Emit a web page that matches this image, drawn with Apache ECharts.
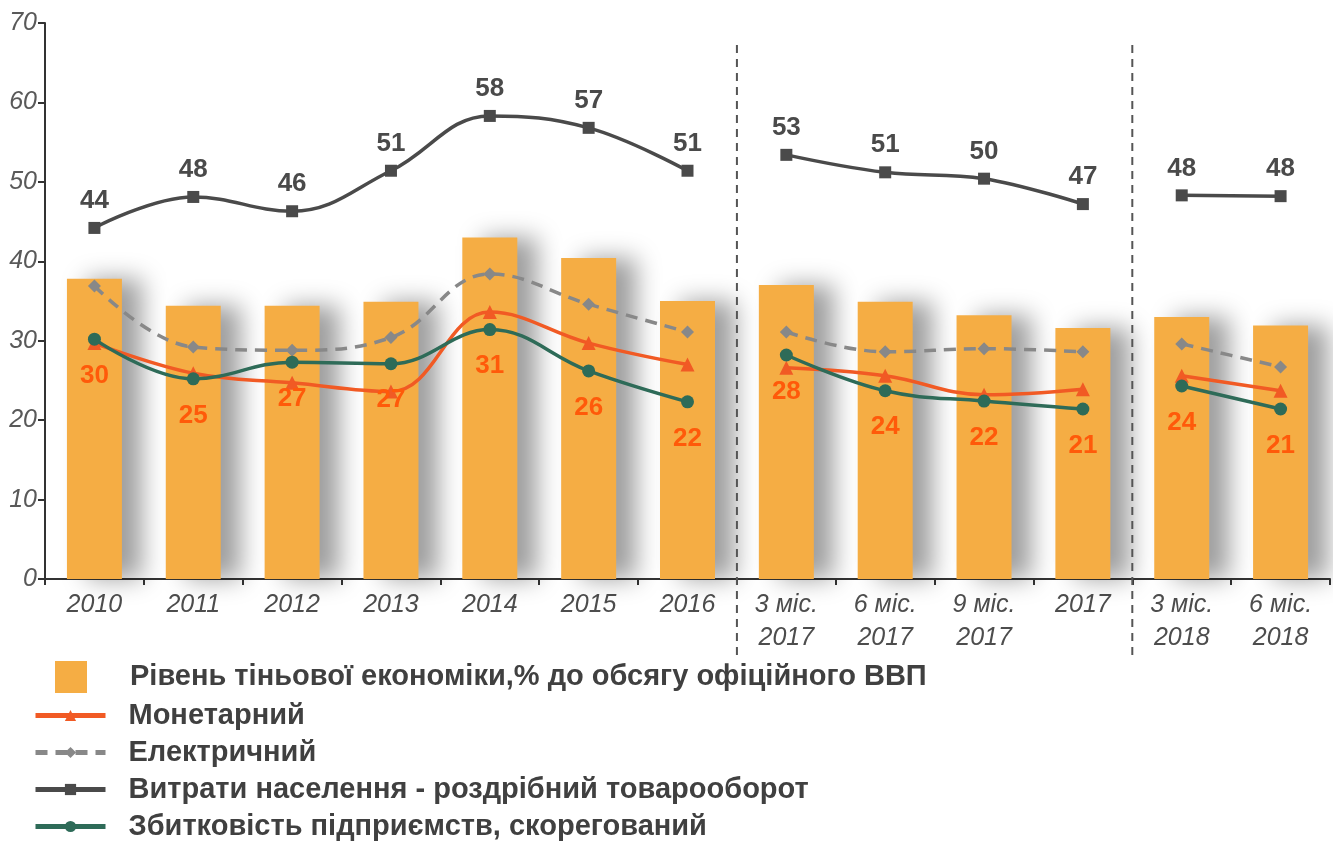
<!DOCTYPE html>
<html>
<head>
<meta charset="utf-8">
<script src="https://cdn.jsdelivr.net/npm/echarts@6/dist/echarts.min.js"></script>
<style>
    html, body { margin: 0; padding: 0; background: #fff; }
    #shadow-chart { width: 1333px; height: 842px; }
</style>
</head>
<body>
<div id="shadow-chart"></div>
<script>
const categories = ['2010', '2011', '2012', '2013', '2014', '2015', '2016',
    '3 міс.\n2017', '6 міс.\n2017', '9 міс.\n2017', '2017', '3 міс.\n2018', '6 міс.\n2018'];
// рівень тіньової економіки, % ВВП
const shadowLevel = [37.8, 34.4, 34.4, 34.9, 43.0, 40.4, 35.0, 37.0, 34.9, 33.2, 31.6, 33.0, 31.9];
const monetary = [29.7, 25.9, 24.7, 23.6, 33.6, 29.7, 27.0, 26.6, 25.6, 23.2, 23.9, 25.6, 23.7];
const electric = [36.9, 29.2, 28.8, 30.4, 38.4, 34.6, 31.1, 31.1, 28.6, 29.0, 28.6, 29.6, 26.7];
const retail = [44.2, 48.1, 46.3, 51.4, 58.3, 56.8, 51.4, 53.4, 51.2, 50.4, 47.2, 48.3, 48.2];
const losses = [30.2, 25.2, 27.3, 27.1, 31.4, 26.2, 22.3, 28.2, 23.7, 22.4, 21.4, 24.3, 21.4];
// periods drawn as separate line pieces
const segments = [[0, 6], [7, 10], [11, 12]];

const barName = 'Рівень тіньової економіки,% до обсягу офіційного ВВП';
const lineNames = ['Монетарний', 'Електричний', 'Витрати населення - роздрібний товарооборот', 'Збитковість підприємств, скорегований'];

const axisFont = "'Liberation Sans Narrow', 'Liberation Sans', Arial, sans-serif";
const boldFont = "'Liberation Sans', Arial, sans-serif";

const piece = (values, from, to) => values.map((v, i) => (i >= from && i <= to ? v : null));

const lineStyles = [
    { data: monetary, color: '#F15A24', symbol: 'triangle', size: 14, type: 'solid' },
    { data: electric, color: '#888888', symbol: 'diamond', size: 13, type: [12, 8] },
    { data: retail, color: '#4A4A4A', symbol: 'rect', size: 12, type: 'solid' },
    { data: losses, color: '#2E6B58', symbol: 'circle', size: 13, type: 'solid' }
];

let series = [{
    name: barName,
    type: 'bar',
    barWidth: 55,
    data: shadowLevel,
    itemStyle: {
        color: '#F5AD44',
        shadowColor: 'rgba(0, 0, 0, 0.38)',
        shadowBlur: 24,
        shadowOffsetX: 20,
        shadowOffsetY: 0
    },
    z: 1
}];

lineStyles.forEach((ls, k) => {
    segments.forEach(seg => {
        let s = {
            name: lineNames[k],
            type: 'line',
            smooth: 0.4,
            data: piece(ls.data, seg[0], seg[1]),
            symbol: ls.symbol,
            symbolSize: ls.size,
            showAllSymbol: true,
            lineStyle: { color: ls.color, width: 3.5, type: ls.type },
            itemStyle: { color: ls.color },
            z: 3 + k
        };
        if (ls.data === retail) {
            s.label = {
                show: true,
                position: 'top',
                distance: 8,
                color: '#4A4A4A',
                fontFamily: boldFont,
                fontWeight: 'bold',
                fontSize: 26,
                formatter: p => Math.round(p.value)
            };
        }
        if (ls.data === losses) {
            s.label = {
                show: true,
                position: 'bottom',
                distance: 17,
                color: '#FF5A0A',
                fontFamily: boldFont,
                fontWeight: 'bold',
                fontSize: 26,
                formatter: p => Math.round(p.value)
            };
        }
        series.push(s);
    });
});

let chartDom = document.getElementById('shadow-chart');
let chart = echarts.init(chartDom);

let option = {
    animation: false,
    grid: { left: 45, right: 3, top: 23, bottom: 263, containLabel: false },
    legend: [
        {
            data: [{ name: barName, icon: 'rect' }],
            left: 55,
            top: 661,
            padding: 0,
            itemWidth: 32,
            itemHeight: 32,
            itemStyle: { shadowBlur: 0, shadowOffsetX: 0, shadowColor: 'transparent' },
            textStyle: { fontFamily: boldFont, fontWeight: 'bold', fontSize: 29, color: '#404040', padding: [0, 0, 0, 38] }
        },
        {
            data: lineNames,
            orient: 'vertical',
            left: 33,
            top: 701,
            height: 141,
            padding: 0,
            itemWidth: 70,
            itemHeight: 14,
            itemGap: 8,
            lineStyle: { width: 5 },
            textStyle: { fontFamily: boldFont, fontWeight: 'bold', fontSize: 29, lineHeight: 29, color: '#404040', padding: [0, 0, 0, 18] }
        }
    ],
    xAxis: {
        type: 'category',
        data: categories,
        boundaryGap: true,
        axisLine: { lineStyle: { color: '#333', width: 2 } },
        axisTick: { show: true, length: 6, alignWithLabel: false, lineStyle: { color: '#333', width: 2 } },
        axisLabel: {
            interval: 0,
            margin: 10,
            fontFamily: axisFont,
            fontStyle: 'italic',
            fontSize: 25,
            lineHeight: 33,
            color: '#4D4D4D'
        },
        splitLine: { show: false }
    },
    yAxis: {
        type: 'value',
        min: 0,
        max: 70,
        interval: 10,
        axisLine: { show: true, lineStyle: { color: '#333', width: 2 } },
        axisTick: { show: true, length: 7, lineStyle: { color: '#333', width: 2 } },
        axisLabel: {
            margin: 8,
            fontFamily: axisFont,
            fontStyle: 'italic',
            fontSize: 25,
            color: '#595959'
        },
        splitLine: { show: false }
    },
    series: series
};

chart.setOption(option);

// dashed separators between periods, placed on category boundaries
const boundaryX = i => (chart.convertToPixel({ xAxisIndex: 0 }, categories[i - 1]) +
    chart.convertToPixel({ xAxisIndex: 0 }, categories[i])) / 2;
const sepGraphics = [7, 11].map(i => ({
    type: 'line',
    shape: { x1: boundaryX(i), y1: 45, x2: boundaryX(i), y2: 660 },
    style: { stroke: '#555', lineWidth: 2, lineDash: [8, 6] },
    z: 10
}));
chart.setOption({ graphic: sepGraphics });

window.addEventListener('resize', chart.resize);
</script>
</body>
</html>
